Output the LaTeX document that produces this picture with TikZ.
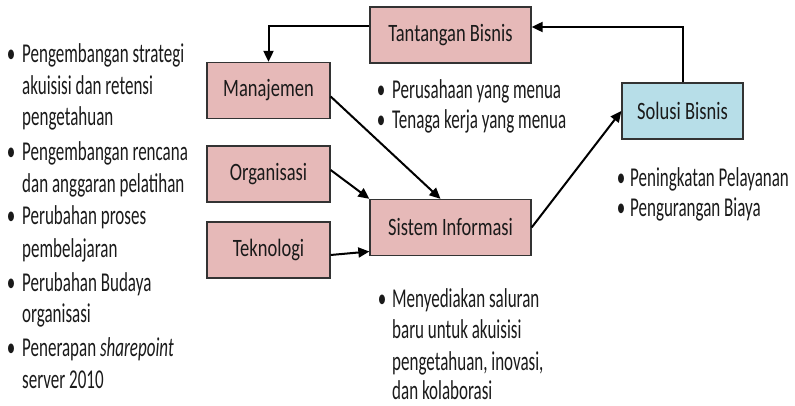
\documentclass[tikz,border=0pt]{standalone}
\usepackage{fontspec}
\setmainfont{Carlito}
\usetikzlibrary{arrows.meta}
\definecolor{pinkbox}{HTML}{E6B9B8}
\definecolor{bluebox}{HTML}{B7DEE8}
\definecolor{txt}{HTML}{1A1A1A}
\newcommand{\Str}[1]{\scalebox{1}[1.6]{#1}}
\newcommand{\Bx}[1]{\scalebox{1}[1.35]{#1}}
\begin{document}
\begin{tikzpicture}[x=1pt,y=1pt,
  box/.style={draw=black!80, line width=1.3pt, fill=pinkbox, minimum width=123pt, minimum height=56pt, inner sep=0pt, font=\fontsize{18.5}{22}\selectfont, text=txt},
  wide/.style={box, minimum width=161pt},
  arr/.style={line width=2pt, -{Triangle[length=11pt,width=10pt]}},
  lbl/.style={anchor=base west, inner sep=0pt, font=\fontsize{17}{20}\selectfont, text=txt},
  bul/.style={anchor=base, inner sep=0pt, font=\fontsize{17}{20}\selectfont, text=txt}
]
\useasboundingbox (0,0) rectangle (795,-406);
% boxes
\node[wide] (tb) at (450.5,-35) {\Bx{Tantangan Bisnis}};
\node[box] (mj) at (268.5,-90.5) {\Bx{Manajemen}};
\node[box] (org) at (268.5,-174) {\Bx{Organisasi}};
\node[box] (tek) at (268.5,-250) {\Bx{Teknologi}};
\node[wide] (si) at (450.5,-227.5) {\Bx{Sistem Informasi}};
\node[box, fill=bluebox, minimum width=121pt] (sb) at (682.5,-111) {\Bx{Solusi Bisnis}};
% connectors
\draw[arr] (sb.north) |- ([yshift=8pt]tb.east);
\draw[arr] ([yshift=9pt]tb.west) -| (mj.north);
\draw[arr] ([yshift=-6pt]mj.east) -- ([xshift=-10pt]si.north);
\draw[arr] ([yshift=4pt]org.east) -- (si.north west);
\draw[arr] ([yshift=-5pt]tek.east) -- ([yshift=-24pt]si.west);
\draw[arr] (si.east) -- (sb.west);
% left bullets
\foreach \y in {63,161,225,291,356} \node[bul] (b\y) at (11,-\y) {\Str{•}};
\node[lbl] (l1) at (22,-63) {\Str{Pengembangan strategi}};
\node[lbl] (l2) at (22,-94.5) {\Str{akuisisi dan retensi}};
\node[lbl] (l3) at (22,-126) {\Str{pengetahuan}};
\node[lbl] (l4) at (22,-161) {\Str{Pengembangan rencana}};
\node[lbl] (l5) at (22,-192.5) {\Str{dan anggaran pelatihan}};
\node[lbl] (l6) at (22,-225) {\Str{Perubahan proses}};
\node[lbl] (l7) at (22,-257) {\Str{pembelajaran}};
\node[lbl] (l8) at (22,-291) {\Str{Perubahan Budaya}};
\node[lbl] (l9) at (22,-322.5) {\Str{organisasi}};
\node[lbl] (l10) at (22,-356) {\Str{Penerapan \textit{sharepoint}}};
\node[lbl] (l11) at (22,-388) {\Str{server 2010}};
% middle bullets
\node[bul] (mb1) at (381,-99) {\Str{•}};
\node[lbl] (m1) at (392,-99) {\Str{Perusahaan yang menua}};
\node[bul] (mb2) at (381,-129) {\Str{•}};
\node[lbl] (m2) at (392,-129) {\Str{Tenaga kerja yang menua}};
% right bullets
\node[bul] (rb1) at (621,-187) {\Str{•}};
\node[lbl] (r1) at (630,-187) {\Str{Peningkatan Pelayanan}};
\node[bul] (rb2) at (621,-217) {\Str{•}};
\node[lbl] (r2) at (630,-217) {\Str{Pengurangan Biaya}};
% bottom bullets
\node[bul] (db1) at (382,-307) {\Str{•}};
\node[lbl] (d1) at (392,-307) {\Str{Menyediakan saluran}};
\node[lbl] (d2) at (392,-338.5) {\Str{baru untuk akuisisi}};
\node[lbl] (d3) at (392,-370) {\Str{pengetahuan, inovasi,}};
\node[lbl] (d4) at (392,-399) {\Str{dan kolaborasi}};
\end{tikzpicture}
\end{document}
